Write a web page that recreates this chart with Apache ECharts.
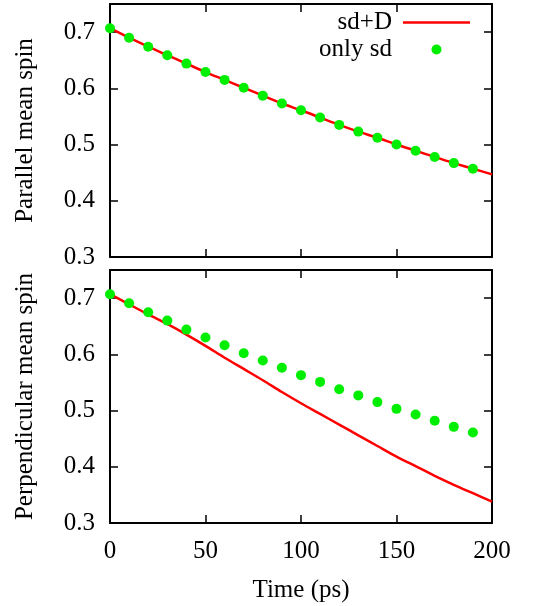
<!DOCTYPE html>
<html>
<head>
<meta charset="utf-8">
<script src="https://cdn.jsdelivr.net/npm/echarts@6/dist/echarts.min.js"></script>
<style>
  html, body { margin: 0; padding: 0; background: #fff; }
  #chart { width: 537px; height: 606px; }
</style>
</head>
<body>
<div id="chart"></div>
<script>
// time axis (ps)
const lineTimes = [0, 10, 20, 30, 40, 50, 60, 70, 80, 90, 100, 110, 120, 130, 140, 150, 160, 170, 180, 190, 200]
const dotTimes = [0, 10, 20, 30, 40, 50, 60, 70, 80, 90, 100, 110, 120, 130, 140, 150, 160, 170, 180, 190]

// parallel mean spin
const parSdD = [0.707, 0.690, 0.674, 0.659, 0.644, 0.629, 0.615, 0.601, 0.587, 0.573, 0.561, 0.548, 0.535, 0.523, 0.512, 0.500, 0.489, 0.478, 0.467, 0.457, 0.447]
const parOnlySd = [0.707, 0.690, 0.674, 0.659, 0.644, 0.629, 0.615, 0.601, 0.587, 0.573, 0.561, 0.548, 0.535, 0.523, 0.512, 0.500, 0.489, 0.478, 0.467, 0.457]

// perpendicular mean spin
const perpSdD = [0.707, 0.689, 0.671, 0.654, 0.635, 0.615, 0.594, 0.574, 0.554, 0.533, 0.513, 0.494, 0.475, 0.456, 0.437, 0.418, 0.401, 0.384, 0.368, 0.353, 0.338]
const perpOnlySd = [0.707, 0.691, 0.675, 0.660, 0.644, 0.630, 0.616, 0.602, 0.589, 0.576, 0.563, 0.551, 0.538, 0.527, 0.515, 0.503, 0.493, 0.482, 0.471, 0.461]

const yTicks = { min: 0.3, max: 0.75, interval: 0.1 }
const xTicks = { min: 0, max: 200, interval: 50 }

const FONT = 'Liberation Serif'
const RED = '#ff0000'
const GREEN = '#00ee00'

const pairs = (xs, ys) => ys.map((y, i) => [xs[i], y])

const tick = { inside: true, length: 8, lineStyle: { color: '#000', width: 1.5 } }
const line = { show: true, onZero: false, lineStyle: { color: '#000', width: 2 } }
const label = { fontFamily: FONT, fontSize: 25, color: '#000' }

function xAxes(grid, showLabels) {
  return [
    {
      type: 'value', gridIndex: grid, position: 'bottom', ...xTicks,
      axisLine: line, axisTick: tick, splitLine: { show: false },
      axisLabel: { show: showLabels, margin: 16, ...label },
      name: showLabels ? 'Time (ps)' : '', nameLocation: 'middle', nameGap: 55,
      nameTextStyle: { ...label }
    },
    {
      type: 'value', gridIndex: grid, position: 'top', ...xTicks,
      axisLine: line, axisTick: tick, splitLine: { show: false },
      axisLabel: { show: false }
    }
  ]
}

function yAxes(grid, title) {
  return [
    {
      type: 'value', gridIndex: grid, position: 'left', ...yTicks,
      axisLine: line, axisTick: tick, splitLine: { show: false },
      axisLabel: { margin: 15, showMaxLabel: false, formatter: v => v.toFixed(1), ...label },
      name: title, nameLocation: 'middle', nameGap: 72, nameTextStyle: { ...label }
    },
    {
      type: 'value', gridIndex: grid, position: 'right', ...yTicks,
      axisLine: line, axisTick: tick, splitLine: { show: false },
      axisLabel: { show: false }
    }
  ]
}

const chart = echarts.init(document.getElementById('chart'))
chart.setOption({
  animation: false,
  backgroundColor: '#fff',
  grid: [
    { left: 110, right: 45, top: 4, height: 253 },
    { left: 110, right: 45, top: 270, height: 253 }
  ],
  xAxis: [...xAxes(0, false), ...xAxes(1, true)],
  yAxis: [...yAxes(0, 'Parallel mean spin'), ...yAxes(1, 'Perpendicular mean spin')],
  legend: {
    orient: 'vertical', align: 'right', right: 62, top: 5,
    itemWidth: 67, itemHeight: 10, itemGap: 2,
    textStyle: { fontFamily: FONT, fontSize: 25, color: '#000', padding: [0, 6, 0, 0] },
    data: [
      { name: 'sd+D', icon: 'path://M0,0L67,0L67,2.5L0,2.5Z' },
      { name: 'only sd', icon: 'circle' }
    ],
    selectedMode: false
  },
  series: [
    {
      name: 'sd+D', type: 'line', xAxisIndex: 0, yAxisIndex: 0,
      data: pairs(lineTimes, parSdD), symbol: 'none', smooth: 0.3,
      lineStyle: { color: RED, width: 2.5 }, itemStyle: { color: RED }, z: 2
    },
    {
      name: 'only sd', type: 'scatter', xAxisIndex: 0, yAxisIndex: 0,
      data: pairs(dotTimes, parOnlySd), symbolSize: 10,
      itemStyle: { color: GREEN, opacity: 1 }, z: 3
    },
    {
      name: 'sd+D', type: 'line', xAxisIndex: 2, yAxisIndex: 2,
      data: pairs(lineTimes, perpSdD), symbol: 'none', smooth: 0.3,
      lineStyle: { color: RED, width: 2.5 }, itemStyle: { color: RED }, z: 2
    },
    {
      name: 'only sd', type: 'scatter', xAxisIndex: 2, yAxisIndex: 2,
      data: pairs(dotTimes, perpOnlySd), symbolSize: 10,
      itemStyle: { color: GREEN, opacity: 1 }, z: 3
    }
  ]
})
</script>
</body>
</html>
